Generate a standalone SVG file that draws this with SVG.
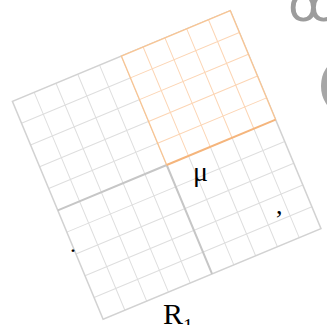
<svg xmlns="http://www.w3.org/2000/svg" width="327" height="325" viewBox="0 0 327 325">
<style>
.g{stroke:#dedede;stroke-width:1;fill:none}
.gb{stroke:#d2d2d2;stroke-width:1.5;fill:none}
.ga{stroke:#c6c6c6;stroke-width:2;fill:none}
.o{stroke:#fcd5b4;stroke-width:1;fill:none}
.ob{stroke:#f8c594;stroke-width:1.3;fill:none}
.oa{stroke:#f5b57c;stroke-width:2;fill:none}
.t{font-family:"Liberation Serif",serif;fill:#000}
</style>
<rect width="327" height="325" fill="#fff"/>
<g id="grid" transform="translate(166.7,165) rotate(-22.6)">
<path class="g" d="M-94.4 -118V118M-70.8 -118V118M-47.2 -118V118M-23.6 -118V118M23.6 -118V118M47.2 -118V118M70.8 -118V118M94.4 -118V118M-118 -94.4H118M-118 -70.8H118M-118 -47.2H118M-118 -23.6H118M-118 23.6H118M-118 47.2H118M-118 70.8H118M-118 94.4H118M0 -118V0M0 0H118"/>
<rect class="gb" x="-118" y="-118" width="236" height="236"/>
<path class="ga" d="M-118 0H0M0 0V118"/>
<g id="quadrant">
<rect x="0" y="-118" width="118" height="118" fill="#fff"/>
<path class="o" d="M23.6 -118V0M47.2 -118V0M70.8 -118V0M94.4 -118V0M0 -94.4H118M0 -70.8H118M0 -47.2H118M0 -23.6H118"/>
<path class="ob" d="M0 0V-118H118V0"/>
<path class="oa" d="M0 0H118"/>
</g>
</g>
<g id="labels">
<text class="t" x="193" y="181" font-size="28">μ</text>
<text class="t" x="276" y="214" font-size="26">,</text>
<text class="t" x="70" y="252" font-size="24">.</text>
<text class="t" x="163" y="324" font-size="30">R<tspan font-size="20" dy="9">1</tspan></text>
</g>
<g id="decor" fill="#9c9c9c">
<text x="288" y="21" font-family="DejaVu Sans,sans-serif" font-size="50">ꝏ</text>
<ellipse cx="337" cy="86" rx="16" ry="24" fill="#a6a6a6"/>
</g>
</svg>
